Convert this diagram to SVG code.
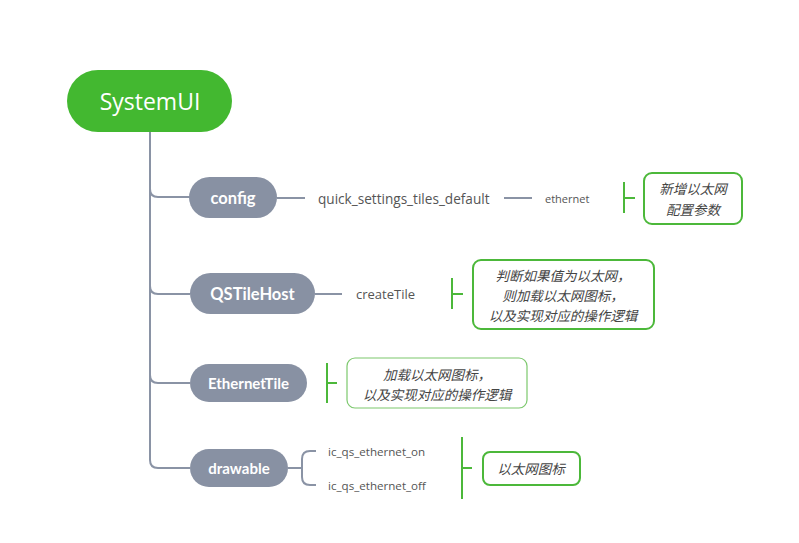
<svg xmlns="http://www.w3.org/2000/svg" width="799" height="543" viewBox="0 0 799 543">
<style>
.node{fill:#8891a3}
.nt{fill:#fff;font-family:Lato,"Open Sans","Liberation Sans",sans-serif;font-weight:bold;text-anchor:middle;dominant-baseline:central}
.lbl{fill:#555;font-family:"Open Sans","Liberation Sans",sans-serif;dominant-baseline:central}
.conn{fill:none;stroke:#8a93a5;stroke-width:2}
.br{fill:none;stroke:#4cb83a;stroke-width:2}
.note{fill:#fff;stroke:#4cb83a;stroke-width:2}
.nx{fill:#444;font-family:"Noto Sans CJK SC",sans-serif;font-style:italic;font-size:13.5px;text-anchor:middle;dominant-baseline:central}
</style>
<rect width="799" height="543" fill="#fff"/>
<g id="connectors">
<path class="conn" d="M150,132 V189 Q150,197 158,197 H190"/>
<path class="conn" d="M150,189 V286 Q150,294 158,294 H190"/>
<path class="conn" d="M150,286 V375 Q150,383 158,383 H190"/>
<path class="conn" d="M150,375 V460 Q150,468 158,468 H190"/>
<path class="conn" d="M277,198 H305"/>
<path class="conn" d="M504,198 H532"/>
<path class="conn" d="M315,294 H342"/>
<path class="conn" d="M288,468 H302"/>
<path class="conn" d="M316,451 H310 Q302,451 302,459 V477 Q302,485 310,485 H316"/>
<path class="br" d="M624,182 V213 M624,198 H635"/>
<path class="br" d="M452,278 V309 M452,294 H463"/>
<path class="br" d="M327,363 V403 M327,383 H337"/>
<path class="br" d="M462,437 V499 M462,468 H472"/>
</g>
<g id="systemui">
<rect x="67" y="70" width="165" height="62" rx="31" fill="#43b830"/>
<text x="150" y="101" fill="#fff" font-family="Open Sans, Liberation Sans, sans-serif" font-size="23" text-anchor="middle" dominant-baseline="central">SystemUI</text>
</g>
<g id="config">
<rect class="node" x="189" y="177" width="88" height="41" rx="20.5"/>
<text class="nt" x="233" y="197.5" font-size="16.5">config</text>
</g>
<g id="quick_settings">
<text class="lbl" x="318" y="198" font-size="13.6">quick_settings_tiles_default</text>
</g>
<g id="ethernet">
<text class="lbl" x="545" y="198" font-size="11">ethernet</text>
</g>
<g id="note1">
<rect class="note" x="644" y="173" width="98" height="51" rx="8"/>
<text class="nx" x="693" y="188">新增以太网</text>
<text class="nx" x="693" y="209">配置参数</text>
</g>
<g id="qstilehost">
<rect class="node" x="190" y="273" width="125" height="41" rx="20.5"/>
<text class="nt" x="252.5" y="293.5" font-size="16.5">QSTileHost</text>
</g>
<g id="createtile">
<text class="lbl" x="356" y="294" font-size="13">createTile</text>
</g>
<g id="note2">
<rect class="note" x="473" y="260" width="181" height="69" rx="8"/>
<text class="nx" x="563" y="275">判断如果值为以太网，</text>
<text class="nx" x="563" y="295">则加载以太网图标，</text>
<text class="nx" x="563" y="315">以及实现对应的操作逻辑</text>
</g>
<g id="ethernettile">
<rect class="node" x="190" y="364" width="117" height="38" rx="19"/>
<text class="nt" x="248.5" y="383" font-size="15">EthernetTile</text>
</g>
<g id="note3">
<rect x="347" y="358" width="180" height="50" rx="8" fill="#fff" stroke="#7cc86d" stroke-width="1.2"/>
<text class="nx" x="437" y="373.5">加载以太网图标，</text>
<text class="nx" x="437" y="393.5">以及实现对应的操作逻辑</text>
</g>
<g id="drawable">
<rect class="node" x="190" y="449" width="98" height="38" rx="19"/>
<text class="nt" x="239" y="468" font-size="15">drawable</text>
</g>
<g id="ic_on">
<text class="lbl" x="328" y="451" font-size="11.6">ic_qs_ethernet_on</text>
</g>
<g id="ic_off">
<text class="lbl" x="328" y="485" font-size="11.6">ic_qs_ethernet_off</text>
</g>
<g id="note4">
<rect class="note" x="483" y="452" width="97" height="33" rx="7"/>
<text class="nx" x="531" y="468">以太网图标</text>
</g>
</svg>
